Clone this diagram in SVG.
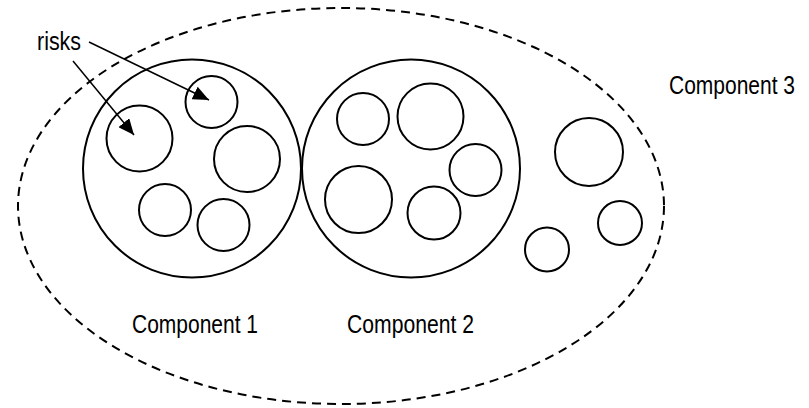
<svg xmlns="http://www.w3.org/2000/svg" width="809" height="408" viewBox="0 0 809 408">
<style>
  .c{fill:none;stroke:#000;stroke-width:2}
  .d{fill:none;stroke:#000;stroke-width:2;stroke-dasharray:9 6}
  .t{font-family:"Liberation Sans Narrow","Arial Narrow","Liberation Sans",Arial,sans-serif;font-size:25px;fill:#000}
  .a{stroke:#000;stroke-width:1.5;fill:none}
</style>
<defs>
  <marker id="ah" markerUnits="userSpaceOnUse" markerWidth="17" markerHeight="14" refX="16" refY="7" orient="auto">
    <path d="M0,0 L16,7 L0,14 z" fill="#000"/>
  </marker>
</defs>
<rect width="809" height="408" fill="#fff"/>
<g id="component3">
  <ellipse class="d" cx="341" cy="206" rx="323" ry="198"/>
  <circle class="c" cx="589" cy="152" r="34"/>
  <circle class="c" cx="620" cy="223" r="22"/>
  <circle class="c" cx="547" cy="249.5" r="22"/>
  <text class="t" x="669" y="94" textLength="126" lengthAdjust="spacingAndGlyphs">Component 3</text>
</g>
<g id="component1">
  <circle class="c" cx="192" cy="168.5" r="109"/>
  <circle class="c" cx="139.5" cy="138.5" r="33"/>
  <circle class="c" cx="211.5" cy="102" r="26"/>
  <circle class="c" cx="247" cy="159" r="33"/>
  <circle class="c" cx="165" cy="210" r="26"/>
  <circle class="c" cx="223.5" cy="225" r="26"/>
  <text class="t" x="132" y="333" textLength="126" lengthAdjust="spacingAndGlyphs">Component 1</text>
</g>
<g id="component2">
  <circle class="c" cx="411" cy="168.5" r="109"/>
  <circle class="c" cx="363" cy="119" r="26"/>
  <circle class="c" cx="430.5" cy="116.5" r="33"/>
  <circle class="c" cx="475.5" cy="170" r="26"/>
  <circle class="c" cx="358.5" cy="199.5" r="33.5"/>
  <circle class="c" cx="434" cy="213" r="26.5"/>
  <text class="t" x="347" y="333" textLength="127" lengthAdjust="spacingAndGlyphs">Component 2</text>
</g>
<g id="risks">
  <text class="t" x="37" y="50" textLength="44" lengthAdjust="spacingAndGlyphs">risks</text>
</g>
<g id="connectors">
  <line class="a" x1="89" y1="42" x2="209" y2="100" marker-end="url(#ah)"/>
  <line class="a" x1="73" y1="61" x2="134" y2="135" marker-end="url(#ah)"/>
</g>
</svg>
